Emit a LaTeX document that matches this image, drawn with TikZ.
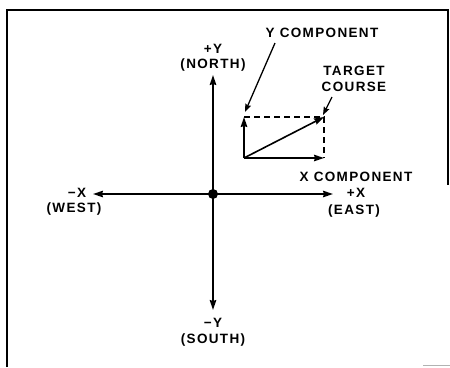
\documentclass[tikz,border=0pt]{standalone}
\usepackage{fontspec}
\setmainfont{Liberation Sans}[LetterSpace=10]
\usetikzlibrary{arrows.meta}
\tikzset{
  lbl/.style={inner sep=0pt, font=\fontsize{13.5}{15}\selectfont\bfseries, align=center},
  ax/.style={line width=1.6pt, -{Stealth[length=10pt,width=6.5pt,inset=1pt]}},
  vec/.style={line width=1.6pt, -{Stealth[length=10pt,width=6.5pt,inset=1pt]}},
  ptr/.style={line width=1.3pt, -{Stealth[length=8pt,width=6pt,inset=1pt]}},
  dsh/.style={line width=1.4pt, dash pattern=on 6pt off 4pt},
  frame/.style={line width=1.8pt}
}
\begin{document}
\begin{tikzpicture}[x=1pt,y=-1pt]
\useasboundingbox (0,0) rectangle (450,367);
% frame
\coordinate (f1) at (7,367);
\coordinate (f2) at (7,10);
\coordinate (f3) at (448,10);
\coordinate (f4) at (448,185);
\draw[frame] (f1) -- (f2) -- (f3) -- (f4);
\coordinate (g1) at (423,365);
\coordinate (g2) at (450,365);
\draw[gray!60, line width=0.8pt] (g1) -- (g2);
% axes
\coordinate (O) at (213,194);
\coordinate (N) at (213,75);
\coordinate (S) at (213,310);
\coordinate (W) at (93,194);
\coordinate (E) at (333,194);
\draw[ax] (O) -- (N);
\draw[ax] (O) -- (S);
\draw[ax] (O) -- (W);
\draw[ax] (O) -- (E);
\fill (O) circle (5pt);
% axis labels
\node[lbl] (py) at (213,49) {+Y};
\node[lbl] (north) at (213,65) {(NORTH)};
\node[lbl] (my) at (213,323) {\textminus Y};
\node[lbl] (south) at (213,340) {(SOUTH)};
\node[lbl] (mx) at (77,193) {\textminus X};
\node[lbl] (west) at (74,209) {(WEST)};
\node[lbl] (px) at (356,193) {+X};
\node[lbl] (east) at (354,211) {(EAST)};
% vector
\coordinate (A) at (244,158);
\coordinate (B) at (324,117);
\coordinate (Ay) at (244,117);
\coordinate (Bx) at (324,158);
\draw[dsh] (Ay) -- (B) -- (Bx);
\draw[vec] (A) -- (Ay);
\draw[vec] (A) -- (Bx);
\draw[vec] (A) -- (B);
% component labels
\node[lbl] (xc) at (356,177) {X COMPONENT};
\node[lbl] (yc) at (322,33) {Y COMPONENT};
\node[lbl] (tc) at (354,79) {TARGET\\[1pt]COURSE};
\coordinate (yp) at (275,43);
\coordinate (ypt) at (245,112);
\draw[ptr] (yp) -- (ypt);
\coordinate (tp) at (332,97);
\coordinate (tpt) at (323,115);
\draw[ptr] (tp) -- (tpt);
\end{tikzpicture}
\end{document}
